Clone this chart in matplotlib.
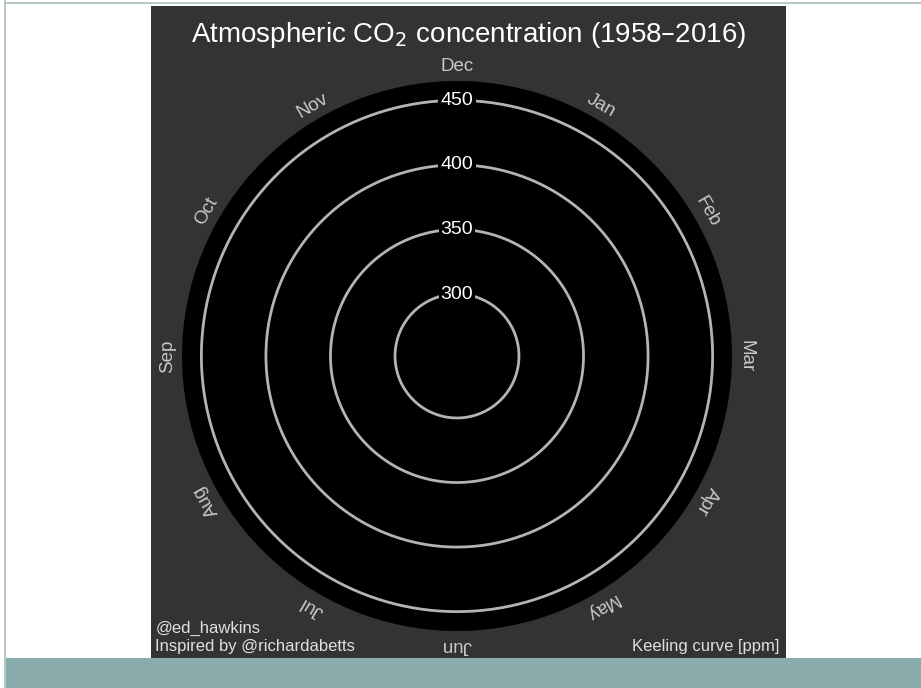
import numpy as np
import matplotlib
matplotlib.use("Agg")
import matplotlib.pyplot as plt
from matplotlib.patches import Rectangle

plt.rcParams['font.family'] = ['Liberation Sans', 'DejaVu Sans']

months = ['Dec', 'Jan', 'Feb', 'Mar', 'Apr', 'May',
          'Jun', 'Jul', 'Aug', 'Sep', 'Oct', 'Nov']
rings = [300, 350, 400, 450]
r_min, r_max = 252, 465
r_month = 476

W, H = 921, 688
fig = plt.figure(figsize=(W / 100, H / 100), dpi=100)
fig.patch.set_facecolor('white')

# slide decoration
fig.add_artist(Rectangle((4 / W, 0), 1, 30 / H, transform=fig.transFigure,
                         facecolor='#8aacac', edgecolor='none'))
fig.add_artist(Rectangle((4 / W, (H - 4) / H), 1, 2 / H, transform=fig.transFigure,
                         facecolor='#b6c9c9', edgecolor='none'))
fig.add_artist(Rectangle((4 / W, 0), 2 / W, 1, transform=fig.transFigure,
                         facecolor='#b6c9c9', edgecolor='none'))

# dark panel
panel = fig.add_axes([151 / W, (H - 659) / H, 635 / W, 653 / H])
panel.set_facecolor('#333333')
panel.set_xticks([])
panel.set_yticks([])
for s in panel.spines.values():
    s.set_visible(False)
panel.text(0.5, 0.978, 'Atmospheric CO$_2$ concentration (1958\u20132016)',
           transform=panel.transAxes, ha='center', va='top',
           color='white', fontsize=20)
panel.text(0.007, 0.008, '@ed_hawkins\nInspired by @richardabetts',
           transform=panel.transAxes, ha='left', va='bottom',
           color='#e0e0e0', fontsize=12, linespacing=1.2)
panel.text(0.99, 0.008, 'Keeling curve [ppm]',
           transform=panel.transAxes, ha='right', va='bottom',
           color='#e0e0e0', fontsize=12)

# polar chart
cx, cy, R = 457, 356, 275
ax = fig.add_axes([(cx - R) / W, (H - cy - R) / H, 2 * R / W, 2 * R / H],
                  projection='polar')
ax.set_facecolor('black')
ax.set_theta_zero_location('N')
ax.set_theta_direction(-1)
ax.set_ylim(r_min, r_max)
ax.grid(False)
ax.set_xticks([])
ax.set_yticks([])
ax.spines['polar'].set_visible(False)

theta = np.linspace(0, 2 * np.pi, 361)
for v in rings:
    ax.plot(theta, np.full_like(theta, v), color='#b4b4b4', lw=2)
    ax.text(0, v, str(v), ha='center', va='center', color='white', fontsize=14,
            bbox=dict(facecolor='black', edgecolor='none', pad=1.5))

for i, m in enumerate(months):
    ang = i * 30
    ax.text(np.deg2rad(ang), r_month, m, ha='center', va='center',
            rotation=-ang, rotation_mode='anchor', color='#c8c8c8',
            fontsize=13.5, clip_on=False)

fig.savefig('out.png', dpi=100)
